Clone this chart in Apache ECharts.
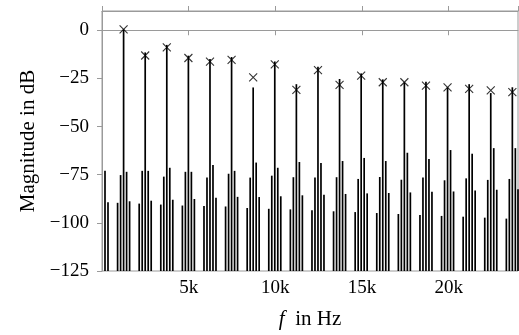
<!DOCTYPE html>
<html>
<head>
<meta charset="utf-8">
<script src="https://cdn.jsdelivr.net/npm/echarts@6/dist/echarts.min.js"></script>
<style>
  html, body { margin: 0; padding: 0; background: #fff; }
  #chart { width: 519px; height: 335px; }
</style>
</head>
<body>
<div id="chart"></div>
<script>
// spectrum lines (Hz), one row per harmonic cluster
const stemFreqs = [
  173, 346,
  900, 1073, 1246, 1419, 1592,
  2146, 2319, 2492, 2665, 2838,
  3392, 3565, 3738, 3911, 4084,
  4638, 4811, 4984, 5157, 5330,
  5884, 6057, 6230, 6403, 6576,
  7130, 7303, 7476, 7649, 7822,
  8376, 8549, 8722, 8895, 9068,
  9622, 9795, 9968, 10141, 10314,
  10868, 11041, 11214, 11387, 11560,
  12114, 12287, 12460, 12633, 12806,
  13360, 13533, 13706, 13879, 14052,
  14606, 14779, 14952, 15125, 15298,
  15852, 16025, 16198, 16371, 16544,
  17098, 17271, 17444, 17617, 17790,
  18344, 18517, 18690, 18863, 19036,
  19590, 19763, 19936, 20109, 20282,
  20836, 21009, 21182, 21355, 21528,
  22082, 22255, 22428, 22601, 22774,
  23328, 23501, 23674, 23847, 24000
]
// magnitudes in dB, same layout
const stemMags = [
  -73, -89.3,
  -89.6, -75.2, 0.5, -73.5, -88.8,
  -90, -73, -11.5, -73, -88.5,
  -90.5, -76, -7.6, -71.4, -88,
  -91, -73.5, -13.2, -73.5, -87.6,
  -91.3, -76.5, -14.9, -70, -87,
  -91.5, -74.5, -13.9, -73, -86.5,
  -92.3, -76.5, -29.7, -68.7, -86.6,
  -92.7, -75.5, -16.2, -71.4, -86.2,
  -93, -76.3, -28, -68.4, -85.7,
  -93.5, -76.5, -19, -68.9, -85.4,
  -94, -76.3, -25.3, -67.9, -85,
  -94.4, -77.2, -22.4, -66.3, -84.7,
  -94.9, -76.2, -25.5, -67.9, -84.5,
  -95.4, -77.6, -27, -63.6, -84.2,
  -95.9, -76.5, -26.7, -66.8, -83.8,
  -96.4, -77.9, -29.6, -62.2, -83.7,
  -96.8, -76.9, -28, -64.1, -83.2,
  -97.3, -77.7, -32.6, -61.2, -82.8,
  -97.8, -77.2, -29.6, -61.2, -82.5
]

// estimated harmonic peaks (x markers)
const peakFreqs = [1246, 2492, 3738, 4984, 6230, 7476, 8722, 9968, 11214, 12460,
  13706, 14952, 16198, 17444, 18690, 19936, 21182, 22428, 23674]
const peakMags = [0.5, -13.1, -8.9, -14.4, -16.3, -15.4, -24.5, -17.7, -30.9, -20.7,
  -28.4, -23.6, -27, -27, -28.7, -29.6, -30.4, -31.2, -32.1]

const yMin = -125
const yMax = 10
const xMax = 24000

const font = 'Liberation Serif'
const axisGray = '#9a9a9a'

const chart = echarts.init(document.getElementById('chart'), null, { renderer: 'canvas' })

const xAxisBase = {
  type: 'value',
  min: 0,
  max: xMax,
  interval: 5000,
  splitLine: { show: false },
  axisLine: { lineStyle: { color: axisGray, width: 1 } },
  axisTick: { inside: false, length: 5, lineStyle: { color: axisGray } }
}

chart.setOption({
  animation: false,
  grid: { left: 102, right: 1, top: 11, bottom: 59, show: true, borderColor: axisGray, borderWidth: 1 },
  xAxis: [
    Object.assign({}, xAxisBase, {
      position: 'bottom',
      name: '{i|f}  in Hz',
      nameLocation: 'middle',
      nameGap: 38,
      nameTextStyle: {
        fontFamily: font, fontSize: 21, color: '#000',
        rich: { i: { fontFamily: font, fontSize: 21, fontStyle: 'italic', color: '#000' } }
      },
      axisLabel: {
        margin: 8,
        fontFamily: font, fontSize: 19, color: '#000',
        showMaxLabel: false,
        formatter: v => (v === 0 || v === xMax ? '' : v / 1000 + 'k')
      }
    }),
    Object.assign({}, xAxisBase, {
      position: 'top',
      axisLabel: { show: false }
    })
  ],
  yAxis: {
    type: 'value',
    min: yMin,
    max: yMax,
    interval: 25,
    splitLine: { show: false },
    name: 'Magnitude in dB',
    nameLocation: 'middle',
    nameGap: 59,
    nameTextStyle: { fontFamily: font, fontSize: 21, color: '#000' },
    axisLine: { show: true, lineStyle: { color: axisGray, width: 1 } },
    axisTick: { show: true, inside: false, length: 5, lineStyle: { color: axisGray } },
    axisLabel: {
      margin: 13,
      fontFamily: font, fontSize: 19, color: '#000',
      formatter: v => (v < 0 ? '\u2212' + (-v) : v > 0 ? '' : '0'),
      showMaxLabel: false
    }
  },
  series: [
    {
      type: 'custom',
      name: 'spectrum',
      data: stemFreqs.map((f, i) => [f, stemMags[i]]),
      renderItem: (params, api) => {
        const top = api.coord([api.value(0), api.value(1)])
        const base = api.coord([api.value(0), yMin])
        return {
          type: 'line',
          shape: { x1: top[0], y1: base[1], x2: top[0], y2: top[1] },
          style: { stroke: '#000', lineWidth: 1.7 }
        }
      },
      z: 2
    },
    {
      type: 'scatter',
      name: 'peaks',
      data: peakFreqs.map((f, i) => [f, peakMags[i]]),
      symbol: 'path://M0,0L10,10M10,0L0,10',
      symbolSize: 8,
      itemStyle: { color: 'none', borderColor: '#000', borderWidth: 1.1 },
      z: 3
    }
  ]
})
</script>
</body>
</html>
